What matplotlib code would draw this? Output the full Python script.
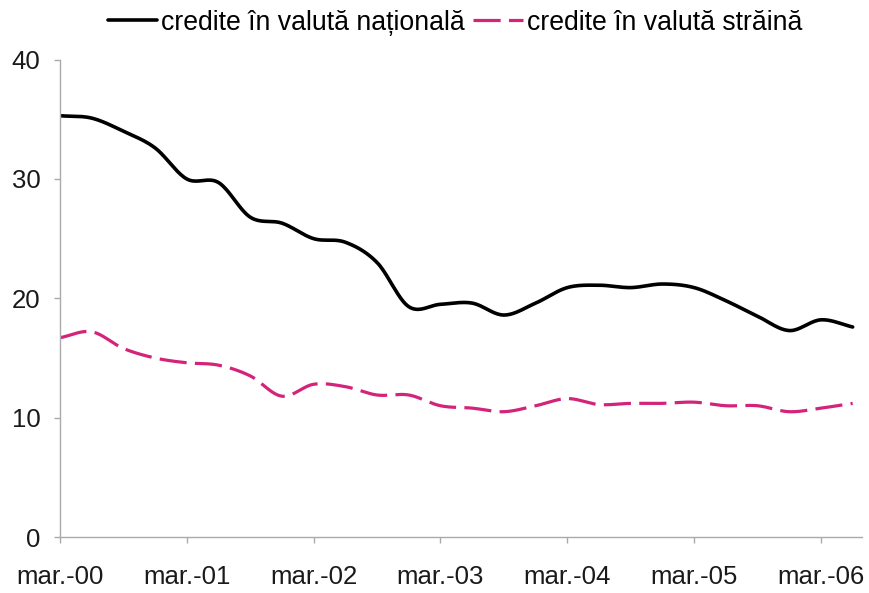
import numpy as np
import matplotlib
matplotlib.use("Agg")
import matplotlib.pyplot as plt

plt.rcParams['font.family'] = ['Liberation Sans', 'DejaVu Sans']

# quarterly observations, mar.-00 ... jun.-06
quarters = list(range(26))
tick_labels = ['mar.-00', 'mar.-01', 'mar.-02', 'mar.-03', 'mar.-04', 'mar.-05', 'mar.-06']
national = [35.3, 35.1, 34.0, 32.6, 30.0, 29.7, 26.8, 26.3, 25.0, 24.7, 23.0, 19.3,
            19.5, 19.6, 18.6, 19.6, 20.9, 21.1, 20.9, 21.2, 20.9, 19.8, 18.5, 17.3,
            18.2, 17.6]
foreign = [16.7, 17.2, 15.8, 15.0, 14.6, 14.4, 13.5, 11.8, 12.8, 12.6, 11.9, 11.9,
           11.0, 10.8, 10.5, 11.0, 11.6, 11.1, 11.2, 11.2, 11.3, 11.0, 11.0, 10.5,
           10.8, 11.2]


def smooth(x, y, n=20):
    # Catmull-Rom spline through the data points (like a smoothed line)
    x = np.asarray(x, float)
    y = np.asarray(y, float)
    px = np.concatenate([[2 * x[0] - x[1]], x, [2 * x[-1] - x[-2]]])
    py = np.concatenate([[2 * y[0] - y[1]], y, [2 * y[-1] - y[-2]]])
    xs, ys = [], []
    t = np.linspace(0, 1, n, endpoint=False)
    for i in range(1, len(px) - 2):
        for P, out in ((px, xs), (py, ys)):
            p0, p1, p2, p3 = P[i - 1], P[i], P[i + 1], P[i + 2]
            out.extend(0.5 * ((2 * p1) + (-p0 + p2) * t + (2 * p0 - 5 * p1 + 4 * p2 - p3) * t ** 2
                              + (-p0 + 3 * p1 - 3 * p2 + p3) * t ** 3))
    xs.append(x[-1])
    ys.append(y[-1])
    return np.array(xs), np.array(ys)


fig = plt.figure(figsize=(8.70, 5.93), dpi=100)
ax = fig.add_axes([0.069, 0.0944, 0.922, 0.805])

xs, ys = smooth(quarters, national)
ax.plot(xs, ys, color='black', lw=2.6, solid_capstyle='round',
        label='credite în valută națională')
xs, ys = smooth(quarters, foreign)
ax.plot(xs, ys, color='#d4237a', lw=2.3, linestyle=(0, (8.5, 2.6)),
        label='credite în valută străină')

ax.set_xlim(0, 25.3)
ax.set_ylim(0, 40)
ax.set_yticks([0, 10, 20, 30, 40])
ax.set_xticks(range(0, 25, 4))
ax.set_xticklabels(tick_labels)
for s in ('top', 'right'):
    ax.spines[s].set_visible(False)
for s in ('left', 'bottom'):
    ax.spines[s].set_color('#aaaaaa')
    ax.spines[s].set_linewidth(1.0)
ax.tick_params(axis='both', colors='#aaaaaa', labelcolor='#1a1a1a', labelsize=18.5,
               length=4, width=1.0)
ax.tick_params(axis='x', pad=16)
ax.tick_params(axis='y', pad=10)

fig.legend(loc='upper center', bbox_to_anchor=(0.523, 1.024), ncol=2, frameon=False,
           fontsize=19.2, handlelength=1.85, columnspacing=0.3, handletextpad=0.15)

fig.savefig('out.png', dpi=100)
